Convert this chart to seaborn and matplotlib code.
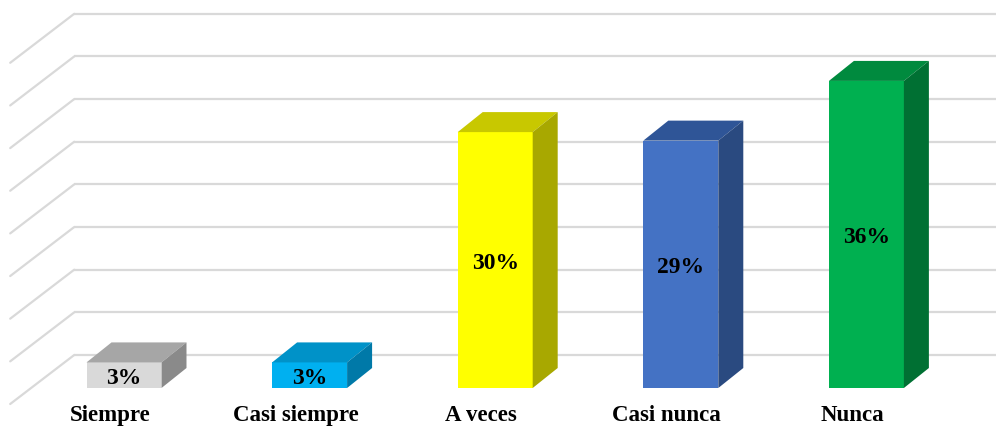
import matplotlib
matplotlib.use("Agg")
import matplotlib.pyplot as plt
from matplotlib.patches import Polygon
from matplotlib.transforms import offset_copy
import seaborn as sns
import pandas as pd

# Survey answers and their shares (%)
categories = ["Siempre", "Casi siempre", "A veces", "Casi nunca", "Nunca"]
values = [3, 3, 30, 29, 36]
value_labels = ["3%", "3%", "30%", "29%", "36%"]
y_ticks = [0, 5, 10, 15, 20, 25, 30, 35, 40]

# Face colours: front, top, side
front_colors = ["#d9d9d9", "#00b0f0", "#ffff00", "#4472c4", "#00b050"]
top_colors = ["#a6a6a6", "#0092c8", "#c8c800", "#2f5597", "#008a3e"]
side_colors = ["#8a8a8a", "#0079a8", "#a8a800", "#2a4a80", "#007033"]

sns.set_theme(style="white")
plt.rcParams["font.family"] = ["Liberation Serif", "DejaVu Serif"]

W, H, DPI = 1005, 432, 100
fig = plt.figure(figsize=(W / DPI, H / DPI), dpi=DPI)
fig.patch.set_facecolor("white")
ax = fig.add_axes([31.2 / W, 44 / H, 928 / W, 341.2 / H])

df = pd.DataFrame({"cat": categories, "val": values})
sns.barplot(data=df, x="cat", y="val", hue="cat", palette=front_colors,
            width=0.404, saturation=1, legend=False, ax=ax, zorder=3,
            edgecolor="none", linewidth=0)

ax.set_xlim(-0.5, 4.5)
ax.set_ylim(0, 40)
for s in ax.spines.values():
    s.set_visible(False)
ax.set_yticks([])
ax.set_ylabel("")
ax.set_xlabel("")
ax.set_xticks(range(len(categories)))
ax.set_xticklabels([])
ax.tick_params(axis="x", length=0)
ax.set_facecolor("none")

# category labels sit on the front edge of the floor, a little to the left
label_tr = offset_copy(ax.get_xaxis_transform(), fig=fig, x=-14, y=-25, units="dots")
for i, c in enumerate(categories):
    ax.text(i, 0, c, transform=label_tr, ha="center", va="center_baseline",
            fontsize=16.5, fontweight="bold", color="black")

# pixel -> data unit conversions
px_x = (ax.get_xlim()[1] - ax.get_xlim()[0]) / 928
px_y = (ax.get_ylim()[1] - ax.get_ylim()[0]) / 341.2

# oblique depth offsets (pixels)
bar_dx, bar_dy = 25, 20
back_dx, back_dy = 43, 33
front_dx, front_dy = -21, -16

grid_c = "#d9d9d9"
x_left = -0.5
for v in y_ticks:
    bx = x_left + back_dx * px_x
    by = v + back_dy * px_y
    fx = x_left + front_dx * px_x
    fy = v + front_dy * px_y
    ax.plot([bx, 4.7], [by, by], color=grid_c, lw=1.6, clip_on=False, zorder=1,
            solid_capstyle="butt")
    ax.plot([fx, bx], [fy, by], color=grid_c, lw=1.6, clip_on=False, zorder=1,
            solid_capstyle="round")

ddx = bar_dx * px_x
ddy = bar_dy * px_y
val_tr = offset_copy(ax.transData, fig=fig, x=0, y=-3, units="dots")
for i, p in enumerate(ax.patches):
    x0 = p.get_x()
    x1 = x0 + p.get_width()
    h = p.get_height()
    top = Polygon([(x0, h), (x1, h), (x1 + ddx, h + ddy), (x0 + ddx, h + ddy)],
                  closed=True, facecolor=top_colors[i], edgecolor="none",
                  zorder=3, clip_on=False)
    side = Polygon([(x1, 0), (x1, h), (x1 + ddx, h + ddy), (x1 + ddx, ddy)],
                   closed=True, facecolor=side_colors[i], edgecolor="none",
                   zorder=3, clip_on=False)
    ax.add_patch(top)
    ax.add_patch(side)
    ax.text(x0 + p.get_width() / 2, h / 2, value_labels[i], transform=val_tr,
            ha="center", va="center", fontsize=17, fontweight="bold",
            color="black", zorder=5)

fig.savefig("out.png", dpi=DPI, facecolor="white")
